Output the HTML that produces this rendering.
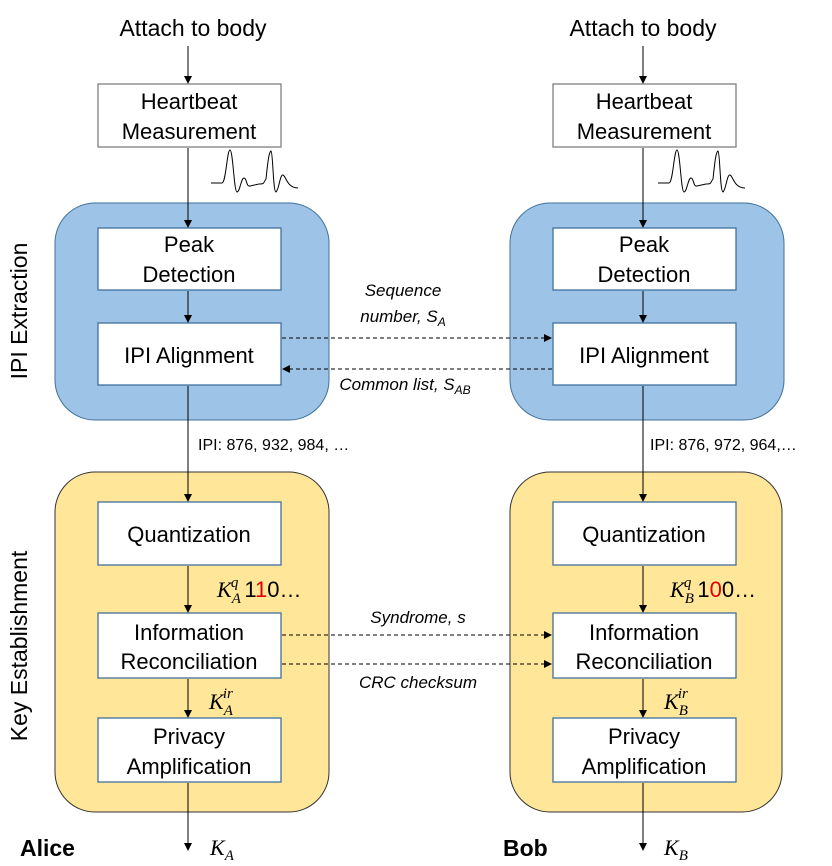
<!DOCTYPE html>
<html><head><meta charset="utf-8"><style>
html,body{margin:0;padding:0;background:#fff;}
svg{display:block;font-family:"Liberation Sans",Arial,sans-serif;}
.b{font-size:22px;fill:#000;text-anchor:middle;}
.i{font-size:17px;font-style:italic;text-anchor:middle;}
.m{font-family:"Liberation Serif",serif;font-style:italic;}
</style></head><body>
<svg width="832" height="866" viewBox="0 0 832 866" xmlns="http://www.w3.org/2000/svg">
<defs>
<marker id="a" markerWidth="8" markerHeight="8" refX="7" refY="4" orient="auto" markerUnits="userSpaceOnUse"><path d="M0,0 L8,4 L0,8 z" fill="#000"/></marker>
</defs>
<rect x="55" y="203" width="274" height="217" rx="40" fill="#9dc3e6" stroke="#41719c"/>
<rect x="510" y="203" width="274" height="217" rx="40" fill="#9dc3e6" stroke="#41719c"/>
<rect x="55" y="472" width="274" height="340" rx="40" fill="#ffe699" stroke="#333"/>
<rect x="510" y="472" width="272" height="340" rx="40" fill="#ffe699" stroke="#333"/>
<text class="b" transform="translate(27,311) rotate(-90)" style="font-size:23px">IPI Extraction</text>
<text class="b" transform="translate(27,646) rotate(-90)" style="font-size:23px">Key Establishment</text>
<text class="b" x="193" y="36" style="font-size:23px">Attach to body</text>
<text class="b" x="643" y="36" style="font-size:23px">Attach to body</text>
<g stroke="#000" stroke-width="1" fill="none">
<line x1="188" y1="46" x2="188" y2="83" marker-end="url(#a)"/>
<line x1="188" y1="148" x2="188" y2="227" marker-end="url(#a)"/>
<line x1="188" y1="291" x2="188" y2="322" marker-end="url(#a)"/>
<line x1="188" y1="386" x2="188" y2="501" marker-end="url(#a)"/>
<line x1="188" y1="566" x2="188" y2="612" marker-end="url(#a)"/>
<line x1="188" y1="679" x2="188" y2="717" marker-end="url(#a)"/>
<line x1="188" y1="783" x2="188" y2="850" marker-end="url(#a)"/>
<line x1="643" y1="46" x2="643" y2="83" marker-end="url(#a)"/>
<line x1="643" y1="148" x2="643" y2="227" marker-end="url(#a)"/>
<line x1="643" y1="291" x2="643" y2="322" marker-end="url(#a)"/>
<line x1="643" y1="386" x2="643" y2="501" marker-end="url(#a)"/>
<line x1="643" y1="566" x2="643" y2="612" marker-end="url(#a)"/>
<line x1="643" y1="679" x2="643" y2="717" marker-end="url(#a)"/>
<line x1="643" y1="783" x2="643" y2="850" marker-end="url(#a)"/>
<g stroke-dasharray="4,3">
<line x1="282" y1="338" x2="551" y2="338" marker-end="url(#a)"/>
<line x1="552" y1="369" x2="283" y2="369" marker-end="url(#a)"/>
<line x1="282" y1="635" x2="551" y2="635" marker-end="url(#a)"/>
<line x1="282" y1="664" x2="551" y2="664" marker-end="url(#a)"/>
</g>
<path d="M211,183 L222,183 C226,183 227,150 230,150 C233,150 234,192 237,192 C240,192 241,178 244,178 C247,178 246,187 250,186 L259,184 C265,184 263,183 266,179 C268,160 269,152 271,151 C273,152 273,192 276,192 C279,190 280,174 283,175 C286,176 287,188 298,188" />
<path d="M658,183 L669,183 C673,183 674,150 677,150 C680,150 681,192 684,192 C687,192 688,178 691,178 C694,178 693,187 697,186 L706,184 C712,184 710,183 713,179 C715,160 716,152 718,151 C720,152 720,192 723,192 C726,190 727,174 730,175 C733,176 734,188 745,188"/>
</g>
<g fill="#fff" stroke="#41719c" stroke-width="1.3">
<rect x="98" y="84" width="183" height="63" stroke="#7f7f7f"/>
<rect x="553" y="84" width="183" height="63" stroke="#7f7f7f"/>
<rect x="98" y="228" width="183" height="62"/>
<rect x="553" y="228" width="183" height="62"/>
<rect x="98" y="323" width="183" height="62"/>
<rect x="553" y="323" width="183" height="62"/>
<rect x="98" y="502" width="183" height="63"/>
<rect x="553" y="502" width="183" height="63"/>
<rect x="98" y="613" width="183" height="65"/>
<rect x="553" y="613" width="183" height="65"/>
<rect x="98" y="718" width="183" height="64"/>
<rect x="553" y="718" width="183" height="64"/>
</g>
<g class="b">
<text x="189" y="109">Heartbeat</text><text x="189" y="139">Measurement</text>
<text x="644" y="109">Heartbeat</text><text x="644" y="139">Measurement</text>
<text x="189" y="252">Peak</text><text x="189" y="282">Detection</text>
<text x="644" y="252">Peak</text><text x="644" y="282">Detection</text>
<text x="189" y="363">IPI Alignment</text><text x="644" y="363">IPI Alignment</text>
<text x="189" y="542">Quantization</text><text x="644" y="542">Quantization</text>
<text x="189" y="640">Information</text><text x="189" y="669">Reconciliation</text>
<text x="644" y="640">Information</text><text x="644" y="669">Reconciliation</text>
<text x="189" y="744">Privacy</text><text x="189" y="774">Amplification</text>
<text x="644" y="744">Privacy</text><text x="644" y="774">Amplification</text>
</g>
<g class="i">
<text x="403" y="296">Sequence</text>
<text x="403" y="322">number, S<tspan font-size="12" dy="4">A</tspan></text>
<text x="405" y="390">Common list, S<tspan font-size="12" dy="4">AB</tspan></text>
<text x="418" y="623">Syndrome, s</text>
<text x="418" y="688">CRC checksum</text>
</g>
<text x="198" y="450" font-size="16">IPI: 876, 932, 984, …</text>
<text x="650" y="450" font-size="16">IPI: 876, 972, 964,…</text>
<g font-size="22">
<text x="217" y="597"><tspan class="m">K</tspan><tspan class="m" font-size="15" dy="6">A</tspan><tspan class="m" font-size="15" dx="-10" dy="-16">q</tspan><tspan dx="6" dy="10">1</tspan><tspan fill="#e00000">1</tspan><tspan>0…</tspan></text>
<text x="670" y="597"><tspan class="m">K</tspan><tspan class="m" font-size="15" dy="6">B</tspan><tspan class="m" font-size="15" dx="-10" dy="-16">q</tspan><tspan dx="6" dy="10">1</tspan><tspan fill="#e00000">0</tspan><tspan>0…</tspan></text>
<text x="209" y="709"><tspan class="m">K</tspan><tspan class="m" font-size="15" dy="6">A</tspan><tspan class="m" font-size="15" dx="-10" dy="-17">ir</tspan></text>
<text x="664" y="709"><tspan class="m">K</tspan><tspan class="m" font-size="15" dy="6">B</tspan><tspan class="m" font-size="15" dx="-10" dy="-17">ir</tspan></text>
<text x="210" y="855"><tspan class="m">K</tspan><tspan class="m" font-size="15" dy="5">A</tspan></text>
<text x="664" y="855"><tspan class="m">K</tspan><tspan class="m" font-size="15" dy="5">B</tspan></text>
</g>
<text x="20" y="856" font-size="23" font-weight="bold">Alice</text>
<text x="503" y="856" font-size="23" font-weight="bold">Bob</text>
</svg>
</body></html>
